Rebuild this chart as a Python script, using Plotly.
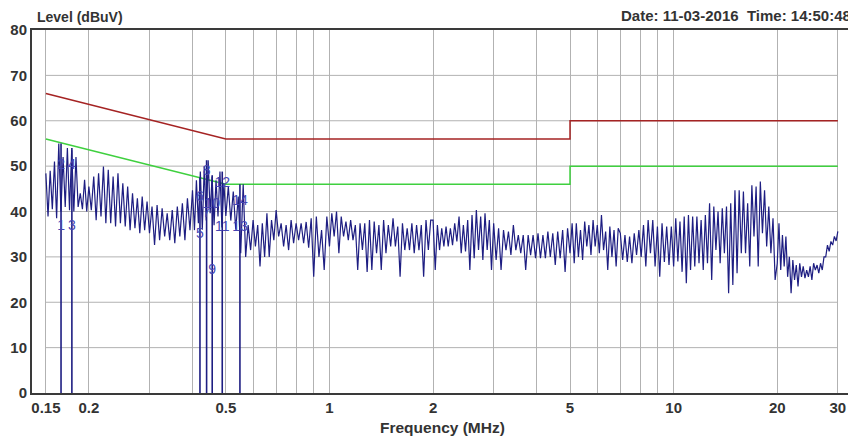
import numpy as np
import plotly.graph_objects as go

# ---------------- data ----------------
# sweep segment edges (MHz); levels in each segment are read from the picture
seg_edges_mhz = [0.15, 0.2, 0.3, 0.4, 0.5, 0.6, 0.7, 0.8, 0.9, 1.0, 2.0, 3.0, 5.0, 7.0, 10.0, 20.0, 30.0]

lvl_150k_200k = [48.4, 38.9, 49.0, 40.5, 51.0, 38.5, 55.0, 40.0, 52.0, 41.0, 54.0, 40.3, 53.5, 40.0,
                 52.0, 41.0, 44.0, 40.5, 47.0, 40.0]
lvl_200k_300k = [45.5, 40.3, 47.7, 38.1, 48.4, 38.9, 49.9, 37.4, 49.2, 37.4, 47.7, 36.7, 48.4, 37.4,
                 46.2, 36.7, 45.5, 35.9, 44.0, 36.3, 42.9, 35.2, 43.3, 35.9, 42.2]
lvl_300k_400k = [35.2, 41.1, 32.6, 41.4, 33.7, 40.7, 34.5, 39.6, 33.7, 40.3, 33.0, 41.1, 34.5, 41.8,
                 33.7, 42.9, 35.9]
lvl_400k_500k = [44.7, 35.9, 46.9, 37.4, 48.8, 36.0, 50.0, 38.0, 51.3, 39.6, 47.7, 37.0, 46.9, 38.9,
                 48.8, 36.5, 46.2]
lvl_500k_600k = [39.0, 45.5, 38.0, 44.4, 36.0, 43.3, 30.8, 46.0, 30.0, 37.0, 31.5]
lvl_600k_700k = [38.1, 32.3, 37.0, 27.9, 37.4, 30.0, 39.6, 30.0, 38.1, 33.7]
lvl_700k_800k = [40.3, 34.5, 37.4, 32.3, 37.0, 31.5, 38.1, 33.0]
lvl_800k_900k = [37.4, 33.7, 37.4, 33.0, 37.7, 32.0, 38.5]
lvl_900k_1m = [25.6, 38.9, 30.0, 35.9, 27.1, 38.9]
lvl_1m_2m = [32.3, 39.6, 34.5, 40.0, 30.8, 38.9, 34.5, 37.8, 33.7, 38.1, 33.7, 37.0, 27.1, 37.4,
             31.5, 37.4, 26.7, 38.1, 27.1, 37.8, 30.8, 37.0, 27.1, 38.1, 30.8, 37.0, 32.3, 38.5,
             32.3, 36.7, 25.6, 37.4, 31.5, 36.3, 31.5, 37.4, 30.8, 37.0, 31.5, 37.0, 25.6, 38.1,
             31.5, 38.1]
lvl_2m_3m = [38.1, 27.1, 37.0, 31.5, 36.3, 32.3, 36.7, 32.3, 36.3, 32.6, 37.4, 33.4, 38.9, 30.8,
             37.0, 31.2, 38.1, 27.1, 39.2, 29.7, 40.3, 31.5, 38.9, 29.3, 39.6, 31.5, 38.1, 27.1]
lvl_3m_5m = [37.4, 29.3, 36.3, 27.1, 35.9, 31.5, 35.6, 30.4, 37.0, 31.5, 34.8, 30.8, 34.8, 27.1,
             34.8, 30.4, 34.8, 29.7, 35.2, 29.7, 34.8, 29.7, 35.6, 30.0, 35.2, 28.2, 35.6, 29.7,
             35.9, 26.7, 36.3]
lvl_5m_7m = [30.8, 37.4, 28.6, 37.4, 30.0, 35.9, 29.3, 37.8, 32.3, 37.0, 30.4, 38.1, 32.3, 37.0,
             30.8, 39.2, 31.5, 35.6, 27.1, 36.7, 30.0, 35.9, 27.9, 36.3]
lvl_7m_10m = [35.2, 29.3, 34.8, 28.9, 34.5, 28.6, 35.2, 30.4, 35.9, 30.0, 37.0, 27.9, 38.1, 30.8,
              38.1, 27.9, 36.7, 25.6, 37.4, 28.9, 36.7, 28.2, 36.7]
lvl_10m_20m = [27.9, 38.5, 29.0, 37.8, 26.7, 38.9, 24.2, 39.2, 27.1, 38.9, 27.9, 38.9, 28.6, 38.1,
               27.1, 39.2, 28.6, 41.8, 24.9, 41.1, 31.5, 40.0, 28.6, 40.7, 30.8, 41.1, 22.0, 41.8,
               23.8, 44.7, 26.4, 44.7, 30.8, 44.4, 30.8, 41.8, 27.9, 45.8, 34.5, 45.5, 27.9, 46.6,
               35.2, 44.7, 32.3, 41.1, 30.8, 38.5, 24.9]
lvl_20m_30m = [28.6, 37.4, 27.1, 34.8, 27.9, 34.5, 25.6, 30.0, 22.0, 29.3, 24.9, 28.2, 23.5, 28.6,
               25.6, 27.9, 25.3, 27.1, 25.6, 27.9, 24.9, 28.6, 27.1, 28.2, 26.4, 28.6, 27.1, 30.0,
               30.0, 32.6, 31.2, 33.4, 32.6, 34.5, 33.5, 35.6]

level_segments = [lvl_150k_200k, lvl_200k_300k, lvl_300k_400k, lvl_400k_500k, lvl_500k_600k,
                  lvl_600k_700k, lvl_700k_800k, lvl_800k_900k, lvl_900k_1m, lvl_1m_2m, lvl_2m_3m,
                  lvl_3m_5m, lvl_5m_7m, lvl_7m_10m, lvl_10m_20m, lvl_20m_30m]

# limit lines
qp_limit_freq = [0.15, 0.5, 5.0, 5.0, 30.0]
qp_limit_level = [66, 56, 56, 60, 60]
av_limit_freq = [0.15, 0.5, 5.0, 5.0, 30.0]
av_limit_level = [56, 46, 46, 50, 50]

# markers
marker_line_freq = [0.166, 0.1785, 0.4205, 0.4396, 0.4564, 0.4881, 0.5494]
marker_line_level = [55.0, 54.0, 47.5, 51.3, 48.0, 48.8, 46.0]
marker_label_text = ["1", "2", "3", "4", "5", "6", "7", "8", "9", "10", "11", "12", "13", "14"]
marker_label_freq = [0.166, 0.166, 0.1785, 0.1785, 0.4205, 0.4205, 0.4396, 0.4396, 0.4564, 0.4564,
                     0.4881, 0.4881, 0.5494, 0.5494]
marker_label_level = [36.8, 50.2, 36.8, 50.2, 35.0, 43.0, 39.5, 48.8, 27.0, 41.5, 36.4, 46.2, 36.4, 42.2]

grid_freq = [0.15, 0.2, 0.3, 0.4, 0.5, 0.6, 0.7, 0.8, 0.9, 1, 2, 3, 4, 5, 6, 7, 8, 9, 10, 20, 30]
grid_label = ["0.15", "0.2", "", "", "0.5", "", "", "", "", "1", "2", "", "", "5", "", "", "", "",
              "10", "20", "30"]
y_grid_levels = [10, 20, 30, 40, 50, 60, 70]
y_ticks = [0, 10, 20, 30, 40, 50, 60, 70, 80]

# ---------------- build sweep ----------------
freq, level = [], []
n_seg = len(level_segments)
for i, lv in enumerate(level_segments):
    a, b = seg_edges_mhz[i], seg_edges_mhz[i + 1]
    f = np.geomspace(a, b, len(lv), endpoint=(i == n_seg - 1))
    freq.extend(f.tolist())
    level.extend(lv)

TRACE = "#1e1e82"
TXT = "#333333"
FAM = "Liberation Sans"
fig = go.Figure()

# horizontal grid (only across the sweep span)
gx, gy = [], []
for v in y_grid_levels:
    gx += [grid_freq[0], grid_freq[-1], None]
    gy += [v, v, None]
fig.add_trace(go.Scatter(x=gx, y=gy, mode="lines", line=dict(color="#b2b2b2", width=1),
                         hoverinfo="skip", showlegend=False))

fig.add_trace(go.Scatter(x=qp_limit_freq, y=qp_limit_level, mode="lines",
                         line=dict(color="#a52323", width=1.5), showlegend=False))
fig.add_trace(go.Scatter(x=av_limit_freq, y=av_limit_level, mode="lines",
                         line=dict(color="#3fd03f", width=1.5), showlegend=False))

# marker vertical lines
mx, my = [], []
for f, v in zip(marker_line_freq, marker_line_level):
    mx += [f, f, None]
    my += [0, v, None]
fig.add_trace(go.Scatter(x=mx, y=my, mode="lines", line=dict(color=TRACE, width=1.6),
                         hoverinfo="skip", showlegend=False))

fig.add_trace(go.Scatter(x=freq, y=level, mode="lines", line=dict(color=TRACE, width=1.2),
                         showlegend=False))

fig.add_trace(go.Scatter(x=marker_label_freq, y=marker_label_level, mode="text",
                         text=marker_label_text,
                         textfont=dict(family=FAM, size=14, color="#4646b4"),
                         showlegend=False))

lab_font = dict(family=FAM, size=15, color=TXT, weight="bold")

fig.update_xaxes(type="log", range=[np.log10(0.1367), np.log10(33.2)],
                 tickvals=grid_freq, ticktext=grid_label, showgrid=True, gridcolor="#b2b2b2",
                 gridwidth=1, ticks="", showline=True, linecolor="#3a3a3a", linewidth=2,
                 mirror=True, zeroline=False, tickfont=lab_font, automargin=False)
fig.update_yaxes(range=[0, 80], tickvals=y_ticks, showgrid=False, ticks="", showline=True,
                 linecolor="#3a3a3a", linewidth=2, mirror=True, zeroline=False, tickfont=lab_font,
                 automargin=False)

fig.add_annotation(text="Level (dBuV)", xref="paper", yref="paper", x=0.004, y=1.036,
                   xanchor="left", yanchor="middle", showarrow=False,
                   font=dict(family=FAM, size=14, color=TXT, weight="bold"))
fig.add_annotation(text="Date: 11-03-2016  Time: 14:50:48", xref="paper", yref="paper",
                   x=1.0, y=1.041, xanchor="right", yanchor="middle", showarrow=False,
                   font=dict(family=FAM, size=15, color=TXT, weight="bold"))
fig.add_annotation(text="Frequency (MHz)", xref="paper", yref="paper", x=0.5, y=-0.094,
                   xanchor="center", yanchor="middle", showarrow=False,
                   font=dict(family=FAM, size=15.5, color=TXT, weight="bold"))

# the page body keeps an 8 px margin, so the figure is 8 px smaller on each axis
fig.update_layout(width=848, height=430, margin=dict(l=24, r=3, t=22, b=45),
                  paper_bgcolor="white", plot_bgcolor="white", showlegend=False)

fig.write_html("out.html")
